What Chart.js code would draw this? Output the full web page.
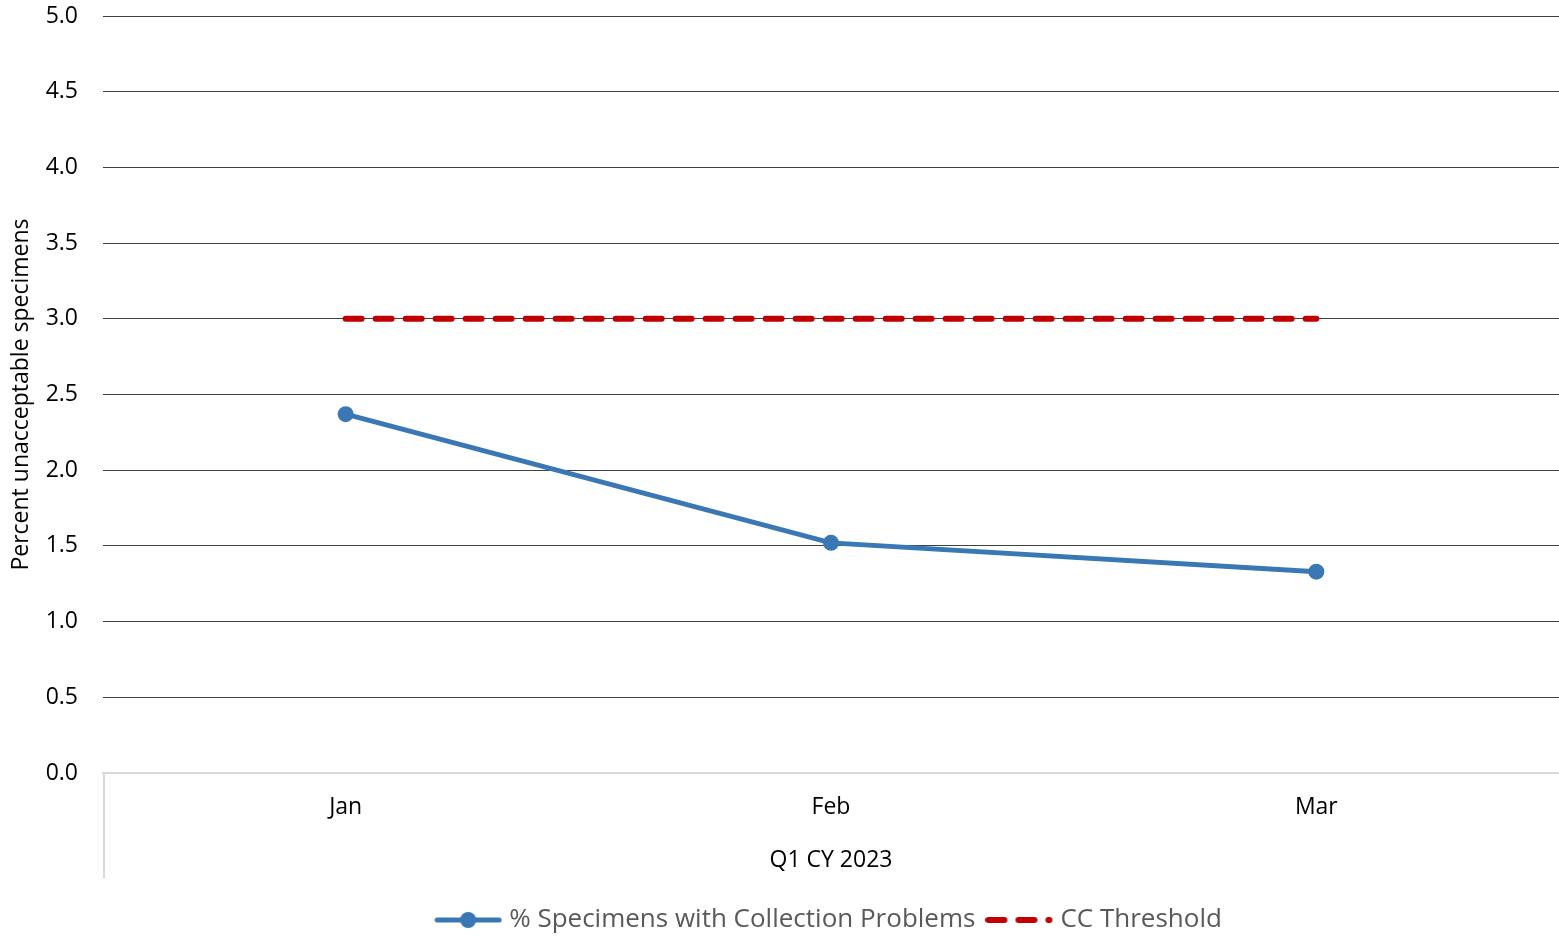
<!DOCTYPE html>
<html>
<head>
<meta charset="utf-8">
<script src="https://cdn.jsdelivr.net/npm/chart.js@4.4.0/dist/chart.umd.min.js"></script>
<style>
  html, body { margin: 0; padding: 0; background: #fff; }
  #wrap { width: 1559px; height: 937px; position: relative; }
</style>
</head>
<body>
<div id="wrap"><canvas id="myChart"></canvas></div>
<script>
// chart data
const months = ['Jan', 'Feb', 'Mar'];
const groupLabel = 'Q1 CY 2023';
const collectionProblems = [2.37, 1.52, 1.33];
const ccThreshold = [3.0, 3.0, 3.0];
const yTicks = [0, 0.5, 1, 1.5, 2, 2.5, 3, 3.5, 4, 4.5, 5];

const blue = '#3A78B5';
const red = '#C00000';
const fontFamily = "'Open Sans', 'Noto Sans', sans-serif";

// little legend icons (line + marker, dashed line)
function blueIcon() {
  const c = document.createElement('canvas');
  c.width = 68; c.height = 18;
  const g = c.getContext('2d');
  g.strokeStyle = blue;
  g.lineWidth = 5;
  g.lineCap = 'round';
  g.beginPath(); g.moveTo(3, 9); g.lineTo(65, 9); g.stroke();
  g.fillStyle = blue;
  g.beginPath(); g.arc(34, 9, 8, 0, Math.PI * 2); g.fill();
  return c;
}
function redIcon() {
  const c = document.createElement('canvas');
  c.width = 68; c.height = 18;
  const g = c.getContext('2d');
  g.strokeStyle = red;
  g.lineWidth = 6;
  g.lineCap = 'round';
  g.setLineDash([16, 14]);
  g.beginPath(); g.moveTo(3, 9); g.lineTo(64, 9); g.stroke();
  return c;
}
const icons = [blueIcon(), redIcon()];

// grey box line on the left of the category area
const categoryBox = {
  id: 'categoryBox',
  afterDraw(chart) {
    const x = chart.scales.x;
    const ctx = chart.ctx;
    ctx.save();
    ctx.strokeStyle = '#d9d9d9';
    ctx.lineWidth = 2;
    ctx.beginPath();
    ctx.moveTo(x.left + 1, x.top);
    ctx.lineTo(x.left + 1, x.top + 105);
    ctx.stroke();
    ctx.restore();
  }
};

const ctx = document.getElementById('myChart').getContext('2d');
const chart = new Chart(ctx, {
  type: 'line',
  data: {
    labels: months,
    datasets: [{
      label: '% Specimens with Collection Problems',
      data: collectionProblems,
      borderColor: blue,
      backgroundColor: blue,
      borderWidth: 5,
      pointRadius: 8,
      pointHoverRadius: 8,
      pointBackgroundColor: blue,
      pointBorderWidth: 0,
      tension: 0,
      order: 2
    }, {
      label: 'CC Threshold',
      data: ccThreshold,
      borderColor: red,
      backgroundColor: red,
      borderWidth: 6,
      borderDash: [16, 14],
      borderCapStyle: 'round',
      pointRadius: 0,
      tension: 0,
      order: 1
    }]
  },
  options: {
    responsive: true,
    maintainAspectRatio: false,
    animation: false,
    layout: { autoPadding: false, padding: { top: 0, right: 0, bottom: -6, left: 0 } },
    scales: {
      x: {
        offset: true,
        grid: { display: false },
        border: { display: true, color: '#d9d9d9', width: 2 },
        ticks: { color: '#000', font: { family: fontFamily, size: 23 }, padding: 13 },
        title: {
          display: true, text: groupLabel, color: '#000',
          font: { family: fontFamily, size: 23 }, padding: { top: 0, bottom: 17.2 }
        },
        afterFit(scale) {
          scale.height = 118;
          scale.paddingLeft = 0;
          scale.paddingRight = 0;
        }
      },
      y: {
        min: 0,
        max: 5,
        afterBuildTicks(scale) { scale.ticks = yTicks.map(v => ({ value: v })); },
        grid: { color: '#404040', lineWidth: 1, drawTicks: false },
        border: { display: false },
        ticks: {
          color: '#000', padding: 25,
          font: { family: fontFamily, size: 23 },
          callback: v => Number(v).toFixed(1)
        },
        title: {
          display: true, text: 'Percent unacceptable specimens', color: '#000',
          font: { family: fontFamily, size: 23 }, padding: { top: 8, bottom: 0 }
        },
        afterFit(scale) {
          scale.width = 103;
          scale.paddingTop = 16;
          scale.paddingBottom = 0;
        }
      }
    },
    plugins: {
      legend: {
        position: 'bottom',
        fullSize: false,
        labels: {
          usePointStyle: true,
          pointStyleWidth: 56,
          padding: 16,
          color: '#595959',
          font: { family: fontFamily, size: 26 },
          generateLabels(chart) {
            return chart.data.datasets.map((ds, i) => ({
              text: ds.label,
              pointStyle: icons[i],
              fillStyle: ds.borderColor,
              strokeStyle: ds.borderColor,
              lineWidth: 0,
              fontColor: '#595959',
              datasetIndex: i,
              hidden: false
            }));
          }
        }
      },
      tooltip: { enabled: false }
    }
  },
  plugins: [categoryBox]
});
</script>
</body>
</html>
